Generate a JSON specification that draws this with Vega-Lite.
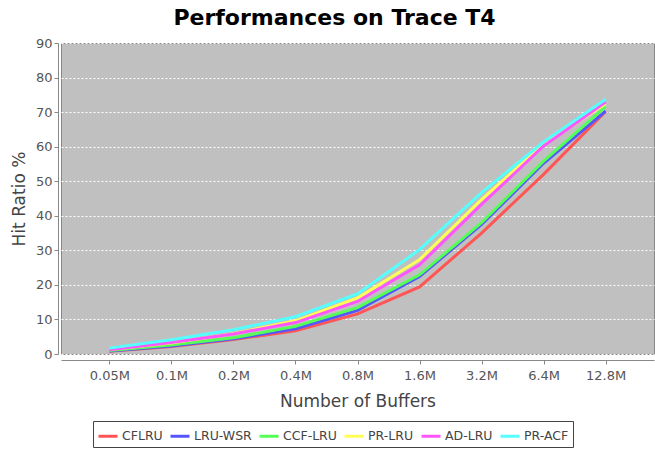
{
  "$schema": "https://vega.github.io/schema/vega-lite/v6.json",
  "autosize": {"type": "none"},
  "width": 593,
  "height": 311,
  "padding": {"left": 61, "top": 43, "right": 1, "bottom": 95},
  "background": "white",
  "title": {"text": "Performances on Trace T4", "fontSize": 22, "fontWeight": "bold", "font": "DejaVu Sans", "color": "black", "anchor": "middle", "dx": -23, "offset": 7},
  "config": {
    "font": "DejaVu Sans",
    "view": {"fill": "#C0C0C0", "stroke": "#888888", "strokeWidth": 1}
  },
  "data": {"values": [
    {"buffers": "0.05M", "policy": "CFLRU", "hit": 0.8},
    {"buffers": "0.1M", "policy": "CFLRU", "hit": 2.2},
    {"buffers": "0.2M", "policy": "CFLRU", "hit": 4.2},
    {"buffers": "0.4M", "policy": "CFLRU", "hit": 6.7},
    {"buffers": "0.8M", "policy": "CFLRU", "hit": 11.6},
    {"buffers": "1.6M", "policy": "CFLRU", "hit": 19.4},
    {"buffers": "3.2M", "policy": "CFLRU", "hit": 35.0},
    {"buffers": "6.4M", "policy": "CFLRU", "hit": 52.0},
    {"buffers": "12.8M", "policy": "CFLRU", "hit": 70.2},
    {"buffers": "0.05M", "policy": "LRU-WSR", "hit": 0.9},
    {"buffers": "0.1M", "policy": "LRU-WSR", "hit": 2.3},
    {"buffers": "0.2M", "policy": "LRU-WSR", "hit": 4.4},
    {"buffers": "0.4M", "policy": "LRU-WSR", "hit": 7.3},
    {"buffers": "0.8M", "policy": "LRU-WSR", "hit": 12.6},
    {"buffers": "1.6M", "policy": "LRU-WSR", "hit": 22.4},
    {"buffers": "3.2M", "policy": "LRU-WSR", "hit": 37.5},
    {"buffers": "6.4M", "policy": "LRU-WSR", "hit": 55.2},
    {"buffers": "12.8M", "policy": "LRU-WSR", "hit": 70.3},
    {"buffers": "0.05M", "policy": "CCF-LRU", "hit": 1.0},
    {"buffers": "0.1M", "policy": "CCF-LRU", "hit": 2.6},
    {"buffers": "0.2M", "policy": "CCF-LRU", "hit": 4.7},
    {"buffers": "0.4M", "policy": "CCF-LRU", "hit": 8.0},
    {"buffers": "0.8M", "policy": "CCF-LRU", "hit": 13.4},
    {"buffers": "1.6M", "policy": "CCF-LRU", "hit": 22.9},
    {"buffers": "3.2M", "policy": "CCF-LRU", "hit": 38.0},
    {"buffers": "6.4M", "policy": "CCF-LRU", "hit": 55.8},
    {"buffers": "12.8M", "policy": "CCF-LRU", "hit": 71.6},
    {"buffers": "0.05M", "policy": "PR-LRU", "hit": 1.3},
    {"buffers": "0.1M", "policy": "PR-LRU", "hit": 3.2},
    {"buffers": "0.2M", "policy": "PR-LRU", "hit": 5.9},
    {"buffers": "0.4M", "policy": "PR-LRU", "hit": 9.6},
    {"buffers": "0.8M", "policy": "PR-LRU", "hit": 16.2},
    {"buffers": "1.6M", "policy": "PR-LRU", "hit": 27.3},
    {"buffers": "3.2M", "policy": "PR-LRU", "hit": 44.7},
    {"buffers": "6.4M", "policy": "PR-LRU", "hit": 60.7},
    {"buffers": "12.8M", "policy": "PR-LRU", "hit": 72.4},
    {"buffers": "0.05M", "policy": "AD-LRU", "hit": 1.2},
    {"buffers": "0.1M", "policy": "AD-LRU", "hit": 3.3},
    {"buffers": "0.2M", "policy": "AD-LRU", "hit": 5.8},
    {"buffers": "0.4M", "policy": "AD-LRU", "hit": 9.1},
    {"buffers": "0.8M", "policy": "AD-LRU", "hit": 15.2},
    {"buffers": "1.6M", "policy": "AD-LRU", "hit": 25.8},
    {"buffers": "3.2M", "policy": "AD-LRU", "hit": 43.3},
    {"buffers": "6.4M", "policy": "AD-LRU", "hit": 60.2},
    {"buffers": "12.8M", "policy": "AD-LRU", "hit": 72.9},
    {"buffers": "0.05M", "policy": "PR-ACF", "hit": 1.7},
    {"buffers": "0.1M", "policy": "PR-ACF", "hit": 4.1},
    {"buffers": "0.2M", "policy": "PR-ACF", "hit": 7.0},
    {"buffers": "0.4M", "policy": "PR-ACF", "hit": 10.8},
    {"buffers": "0.8M", "policy": "PR-ACF", "hit": 17.4},
    {"buffers": "1.6M", "policy": "PR-ACF", "hit": 30.2},
    {"buffers": "3.2M", "policy": "PR-ACF", "hit": 46.7},
    {"buffers": "6.4M", "policy": "PR-ACF", "hit": 61.4},
    {"buffers": "12.8M", "policy": "PR-ACF", "hit": 73.7}
  ]},
  "mark": {"type": "line", "strokeWidth": 3},
  "encoding": {
    "x": {
      "field": "buffers", "type": "ordinal",
      "sort": ["0.05M", "0.1M", "0.2M", "0.4M", "0.8M", "1.6M", "3.2M", "6.4M", "12.8M"],
      "scale": {"type": "point", "padding": 0.78},
      "axis": {
        "title": "Number of Buffers", "titleFontSize": 17, "titleFontWeight": "normal", "titleColor": "#444444", "titlePadding": 11,
        "labelFontSize": 13, "labelColor": "#555555", "labelAngle": 0, "labelPadding": 5,
        "domainColor": "#888888", "tickColor": "#888888", "tickSize": 4, "offset": 6, "grid": false
      }
    },
    "y": {
      "field": "hit", "type": "quantitative",
      "scale": {"domain": [0, 90], "nice": false},
      "axis": {
        "title": "Hit Ratio %", "titleFontSize": 17, "titleFontWeight": "normal", "titleColor": "#444444", "titlePadding": 7,
        "labelFontSize": 13, "labelColor": "#555555", "labelPadding": 2,
        "values": [0, 10, 20, 30, 40, 50, 60, 70, 80, 90],
        "domainColor": "#888888", "tickColor": "#888888", "tickSize": 4, "offset": 3,
        "grid": true, "gridColor": "white", "gridDash": [2, 2], "gridOpacity": 1
      }
    },
    "color": {
      "field": "policy", "type": "nominal",
      "sort": ["CFLRU", "LRU-WSR", "CCF-LRU", "PR-LRU", "AD-LRU", "PR-ACF"],
      "scale": {
        "domain": ["CFLRU", "LRU-WSR", "CCF-LRU", "PR-LRU", "AD-LRU", "PR-ACF"],
        "range": ["#FF5555", "#5555FF", "#55FF55", "#FFFF55", "#FF55FF", "#55FFFF"]
      },
      "legend": {
        "title": null, "orient": "none", "legendX": 32, "legendY": 378, "direction": "horizontal",
        "symbolType": "stroke", "symbolSize": 361, "symbolStrokeWidth": 3,
        "labelFontSize": 12.5, "labelColor": "#444444", "labelOffset": 3, "columnPadding": 1,
        "strokeColor": "#444444", "padding": 4
      }
    }
  }
}
